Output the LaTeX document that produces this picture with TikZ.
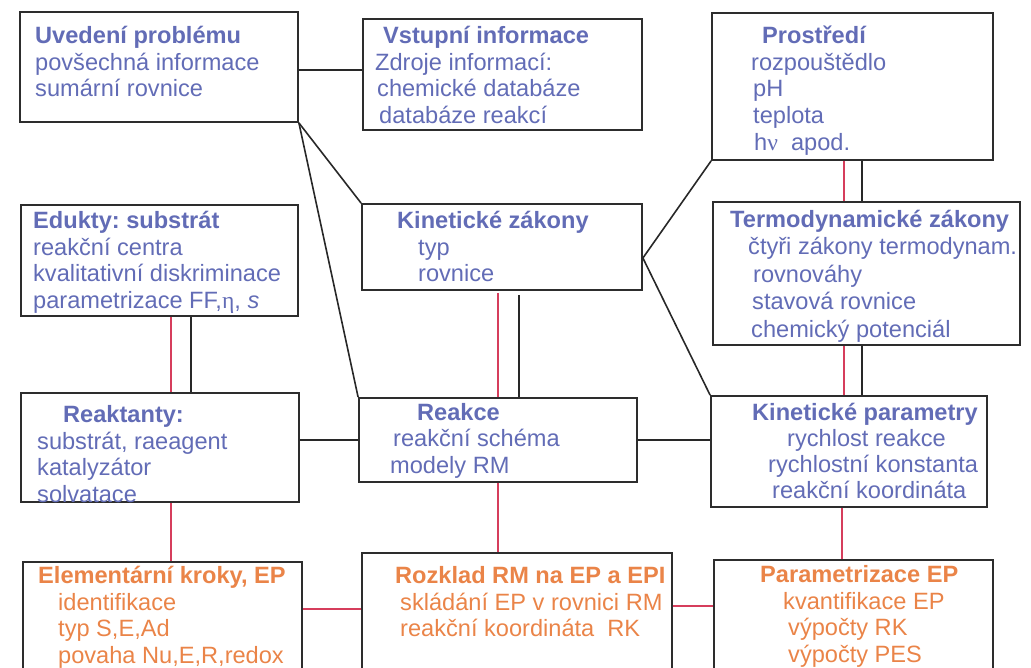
\documentclass[tikz,border=0pt]{standalone}
\usepackage{fontspec}
\setmainfont{Liberation Sans}
\newfontfamily\greekserif{Liberation Serif}
\frenchspacing
\definecolor{boxgray}{RGB}{45,45,45}
\definecolor{linkgray}{RGB}{40,40,40}
\definecolor{redline}{RGB}{214,62,92}
\definecolor{bluetxt}{RGB}{98,108,182}
\definecolor{orangetxt}{RGB}{234,132,72}
\begin{document}
\begin{tikzpicture}[x=1pt,y=-1pt,
  box/.style={draw=boxgray, line width=1.8pt, rectangle, inner sep=0pt},
  txt/.style={anchor=north west, inner sep=0pt, align=left,
    font=\fontsize{23.6}{26.8}\selectfont\frenchspacing, text=bluetxt},
  otxt/.style={txt, text=orangetxt},
  link/.style={draw=linkgray, line width=1.6pt},
  redlink/.style={draw=redline, line width=1.7pt}]
\useasboundingbox (0,0) rectangle (1031,667);
\clip (0,0) rectangle (1031,667);

% boxes
\node[box, minimum width=278pt, minimum height=110pt] (uvod)    at (159,67)    {};
\node[box, minimum width=279pt, minimum height=111pt] (vstup)   at (502.5,74.5) {};
\node[box, minimum width=281pt, minimum height=147pt] (prostr)  at (852.5,86.5) {};
\node[box, minimum width=277pt, minimum height=111pt] (edukty)  at (159.5,260.5) {};
\node[box, minimum width=280pt, minimum height=86pt]  (kinzak)  at (502,247)   {};
\node[box, minimum width=307pt, minimum height=143pt] (termo)   at (866.5,273.5) {};
\node[box, minimum width=278pt, minimum height=109pt] (reakt)   at (160,447.5) {};
\node[box, minimum width=278pt, minimum height=84pt]  (reakce)  at (498,440)   {};
\node[box, minimum width=276pt, minimum height=111pt] (kinpar)  at (849,451.5) {};
\node[box, minimum width=279pt, minimum height=128pt] (elem)    at (162.5,626) {};
\node[box, minimum width=310pt, minimum height=137pt] (rozklad) at (517,621.5) {};
\node[box, minimum width=279pt, minimum height=130pt] (parep)   at (853.5,625) {};

% box texts
\node[txt] (t-uvod) at (35,23) {\rule{0pt}{20pt}{\bfseries Uvedení problému}\\povšechná informace\\sumární rovnice};
\node[txt] (t-vstup) at (375,23) {\rule{0pt}{20pt}\hspace*{8pt}{\bfseries Vstupní informace}\\Zdroje informací:\\\hspace*{2pt}chemické databáze\\\hspace*{4pt}databáze reakcí};
\node[txt] (t-prostr) at (751,23) {\rule{0pt}{20pt}\hspace*{11pt}{\bfseries Prostředí}\\rozpouštědlo\\\hspace*{2pt}pH\\\hspace*{2pt}teplota\\\hspace*{3pt}h{\greekserif ν}\ \ apod.};
\node[txt] (t-edukty) at (33,208) {\rule{0pt}{20pt}{\bfseries Edukty: substrát}\\reakční centra\\kvalitativní diskriminace\\parametrizace FF,{\greekserif η}, \textit{s}};
\node[txt] (t-kinzak) at (397,208) {\rule{0pt}{20pt}{\bfseries Kinetické zákony}\\\hspace*{21pt}typ\\\hspace*{21pt}rovnice};
\node[txt, font=\fontsize{23.6}{27.5}\selectfont\frenchspacing] (t-termo) at (730,207) {\rule{0pt}{20pt}{\bfseries Termodynamické zákony}\\\hspace*{18pt}čtyři zákony termodynam.\\\hspace*{23pt}rovnováhy\\\hspace*{22pt}stavová rovnice\\\hspace*{21pt}chemický potenciál};
\node[txt] (t-reakt) at (37,402) {\rule{0pt}{20pt}\hspace*{26pt}{\bfseries Reaktanty:}\\substrát, raeagent\\katalyzátor\\solvatace};
\node[txt, font=\fontsize{23.6}{26.5}\selectfont\frenchspacing] (t-reakce) at (390,400) {\rule{0pt}{20pt}\hspace*{27pt}{\bfseries Reakce}\\\hspace*{3pt}reakční schéma\\modely RM};
\node[txt, font=\fontsize{23.6}{26.2}\selectfont\frenchspacing] (t-kinpar) at (752,400) {\rule{0pt}{20pt}{\bfseries Kinetické parametry}\\\hspace*{35pt}rychlost reakce\\\hspace*{16pt}rychlostní konstanta\\\hspace*{20pt}reakční koordináta};
\node[otxt] (t-elem) at (38,563) {\rule{0pt}{20pt}{\bfseries Elementární kroky, EP}\\\hspace*{20pt}identifikace\\\hspace*{20pt}typ S,E,Ad\\\hspace*{20pt}povaha Nu,E,R,redox};
\node[otxt] (t-rozklad) at (395,563) {\rule{0pt}{20pt}{\bfseries Rozklad RM na EP a EPI}\\\hspace*{5pt}skládání EP v rovnici RM\\\hspace*{5pt}reakční koordináta\ \ RK};
\node[otxt] (t-parep) at (760,562) {\rule{0pt}{20pt}{\bfseries Parametrizace EP}\\\hspace*{23pt}kvantifikace EP\\\hspace*{28pt}výpočty RK\\\hspace*{28pt}výpočty PES};

% black connectors
\coordinate (c-uv) at ([yshift=-3pt]uvod.east);
\draw[link] (c-uv) -- (c-uv -| vstup.west);
\draw[link] (uvod.south east) -- (kinzak.north west);
\draw[link] (uvod.south east) -- (reakce.north west);
\coordinate (c-kz) at ([yshift=-11pt]kinzak.east);
\draw[link] (prostr.south west) -- (c-kz) -- (kinpar.north west);
\draw[link] (reakt.east |- reakce.west) -- (reakce.west);
\draw[link] (reakce.east) -- (reakce.east -| kinpar.west);

% paired vertical links (red + black)
\coordinate (r-pt) at ([xshift=133pt]prostr.south west);
\coordinate (k-pt) at ([xshift=151pt]prostr.south west);
\draw[redlink] (r-pt) -- (r-pt |- termo.north);
\draw[link] (k-pt) -- (k-pt |- termo.north);
\draw[redlink] (r-pt |- termo.south) -- (r-pt |- kinpar.north);
\draw[link] (k-pt |- termo.south) -- (k-pt |- kinpar.north);

\coordinate (r-ed) at ([xshift=151pt]edukty.south west);
\coordinate (k-ed) at ([xshift=171pt]edukty.south west);
\draw[redlink] (r-ed) -- (r-ed |- reakt.north);
\draw[link] (k-ed) -- (k-ed |- reakt.north);

\coordinate (r-kz) at ([xshift=137pt,yshift=-2pt]kinzak.south west);
\coordinate (k-kz) at ([xshift=158pt,yshift=-4pt]kinzak.south west);
\draw[redlink] (r-kz) -- (r-kz |- reakce.north);
\draw[link] (k-kz) -- (k-kz |- reakce.north);

% red links to the bottom row
\coordinate (r-re) at ([xshift=151pt]reakt.south west);
\draw[redlink] (r-re) -- (r-re |- elem.north);
\coordinate (r-rc) at ([xshift=140pt]reakce.south west);
\draw[redlink] (r-rc) -- (r-rc |- rozklad.north);
\coordinate (r-kp) at ([xshift=132pt]kinpar.south west);
\draw[redlink] (r-kp) -- (r-kp |- parep.north);

\coordinate (r-el) at ([yshift=-48pt]elem.north east);
\draw[redlink] (r-el) -- (r-el -| rozklad.west);
\coordinate (r-rz) at ([yshift=-54pt]rozklad.north east);
\draw[redlink] (r-rz) -- (r-rz -| parep.west);
\end{tikzpicture}
\end{document}
